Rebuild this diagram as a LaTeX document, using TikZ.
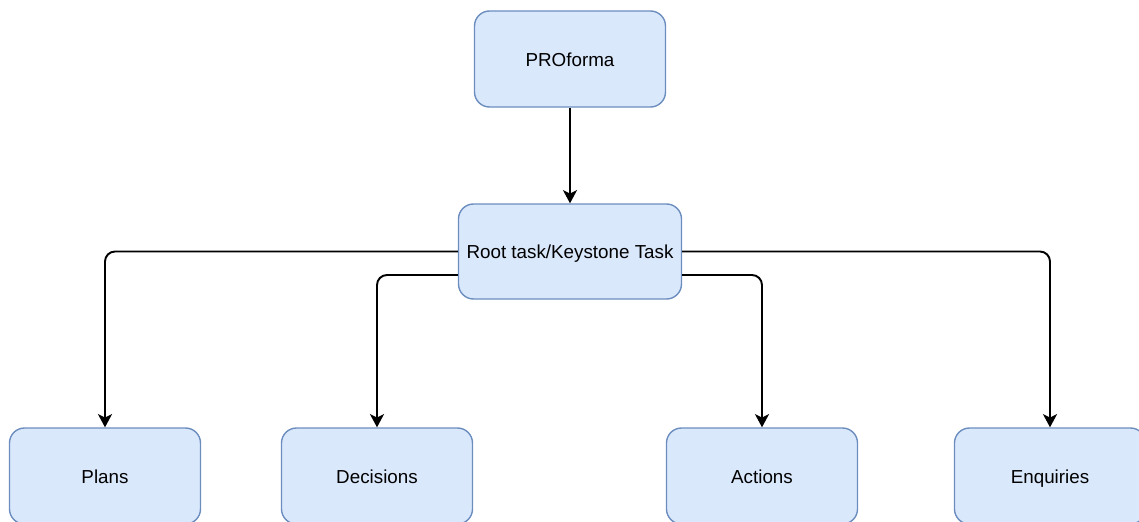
\documentclass[tikz,border=0pt]{standalone}
\usepackage{fontspec}
\setmainfont{Liberation Sans}
\usetikzlibrary{arrows.meta}
\definecolor{boxfill}{HTML}{DAE8FC}
\definecolor{boxline}{HTML}{6C8EBF}
\tikzset{
  taskbox/.style={draw=boxline, fill=boxfill, line width=0.8pt, rounded corners=0.3cm,
    minimum width=3.82cm, minimum height=1.92cm, text height=1.0em, text depth=0.15em,
    font=\fontsize{10.7}{12}\selectfont},
  link/.style={line width=1.1pt, rounded corners=0.2cm,
    -{Stealth[length=7.5pt,width=8pt,inset=2pt]}}
}
\begin{document}
\begin{tikzpicture}[scale=1]
\useasboundingbox (0,0) rectangle (22.78,-10.42);
\node[taskbox] (proforma) at (11.40,-1.18) {PROforma};
\node[taskbox, minimum width=4.46cm, minimum height=1.90cm] (root) at (11.40,-5.03) {Root task/Keystone Task};
\node[taskbox] (plans) at (2.10,-9.52) {Plans};
\node[taskbox] (decisions) at (7.54,-9.52) {Decisions};
\node[taskbox] (actions) at (15.24,-9.52) {Actions};
\node[taskbox] (enquiries) at (21.0,-9.52) {Enquiries};
\draw[link] (proforma) -- (root);
\draw[link] (root.west) -| (plans.north);
\draw[link] (root.east) -| (enquiries.north);
\draw[link] ([yshift=-0.47cm]root.west) -| (decisions.north);
\draw[link] ([yshift=-0.47cm]root.east) -| (actions.north);
\end{tikzpicture}
\end{document}
